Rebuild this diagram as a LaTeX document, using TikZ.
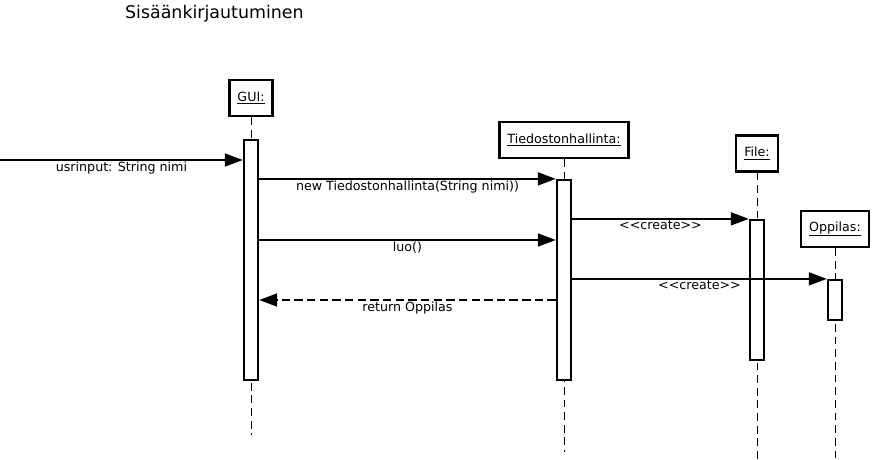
\documentclass[tikz,border=0pt]{standalone}
\usepackage{fontspec}
\setmainfont{DejaVu Sans}
\usetikzlibrary{arrows.meta}

\begin{document}
\begin{tikzpicture}[
    >={Triangle[length=0.45cm, width=0.32cm]},
    every node/.style={font=\fontsize{9}{11}\selectfont},
    head/.style={draw, line width=1.6pt, fill=white, minimum height=0.9cm, inner xsep=0.2cm},
    act/.style={draw, line width=1.6pt, fill=white, minimum width=0.35cm, inner sep=0pt},
    life/.style={dash pattern=on 5.5pt off 3.5pt, line width=0.7pt},
    msg/.style={->, line width=1.6pt},
    ret/.style={msg, dash pattern=on 6pt off 3pt},
    lbl/.style={below, inner sep=0.5pt},
  ]
  \useasboundingbox (0,0) rectangle (21.85,-11.475);
  \node[font=\fontsize{12.4}{15}\selectfont] (title) at (5.36,-0.33) {Sisäänkirjautuminen};

  % objects
  \node[head] (gui)  at (6.275,-2.45)  {\underline{GUI:}};
  \node[head] (td)   at (14.1,-3.5)    {\underline{Tiedostonhallinta:}};
  \node[head] (file) at (18.925,-3.84) {\underline{File:}};
  \node[head] (op)   at (20.875,-5.725){\underline{Oppilas:}};

  % lifelines
  \coordinate (guiEnd)  at (6.275,-10.875);
  \coordinate (tdEnd)   at (14.1,-11.3);
  \coordinate (fileEnd) at (18.925,-11.475);
  \coordinate (opEnd)   at (20.875,-11.475);
  \draw[life] (gui)  -- (guiEnd);
  \draw[life] (td)   -- (tdEnd);
  \draw[life] (file) -- (fileEnd);
  \draw[life] (op)   -- (opEnd);

  % activations
  \node[act, minimum height=6cm]   (guiA)  at (6.275,-6.5)   {};
  \node[act, minimum height=5cm]   (tdA)   at (14.1,-7.0)    {};
  \node[act, minimum height=3.5cm] (fileA) at (18.925,-7.25) {};
  \node[act, minimum height=1cm]   (opA)   at (20.875,-7.5)  {};

  % messages
  \coordinate (usr) at (0,-4.0);
  \coordinate (luo) at (0,-6.0);
  \coordinate (rt)  at (0,-7.5);
  \draw[msg] (usr) -- node[lbl]{usrinput: String nimi} (guiA.west |- usr);
  \draw[msg] (guiA.east |- tdA.north) -- node[lbl]{new Tiedostonhallinta(String nimi))} (tdA.north west);
  \draw[msg] (tdA.east |- fileA.north) -- node[lbl]{<{}<create>{}>} (fileA.north west);
  \draw[msg] (guiA.east |- luo) -- node[lbl]{luo()} (tdA.west |- luo);
  \draw[msg] (tdA.east |- opA.north) -- node[lbl]{<{}<create>{}>} (opA.north west);
  \draw[ret] (tdA.west |- rt) -- node[lbl]{return Oppilas} (guiA.east |- rt);
\end{tikzpicture}
\end{document}
